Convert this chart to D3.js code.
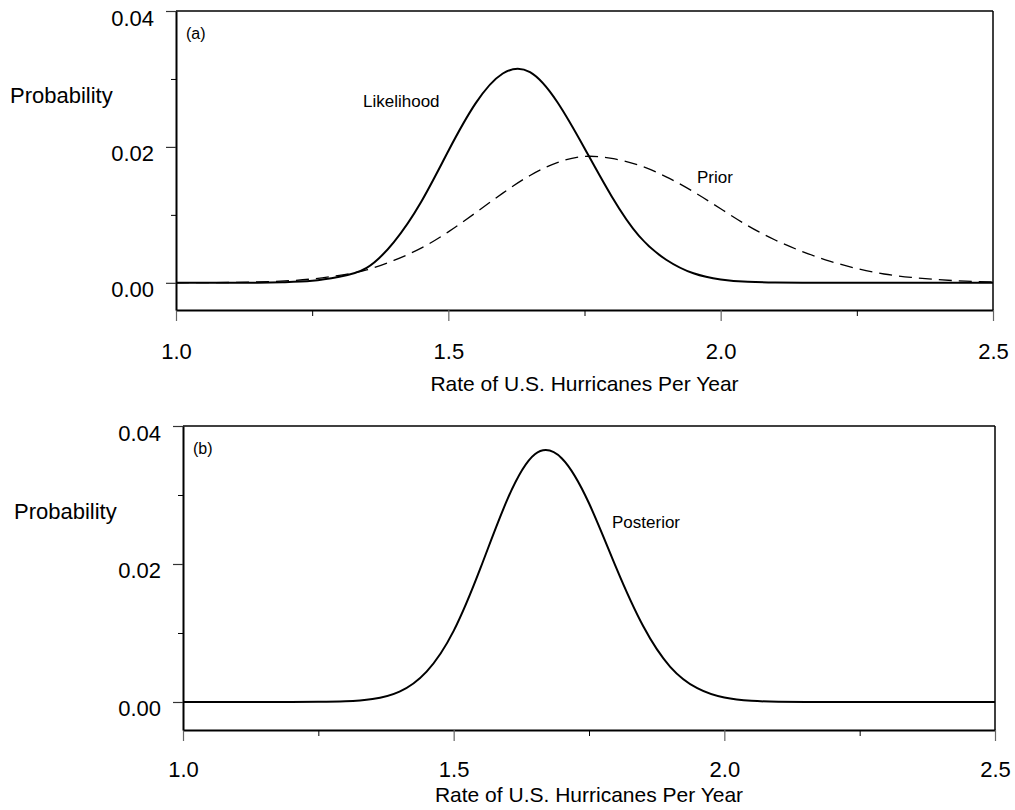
<!DOCTYPE html>
<html>
<head>
<meta charset="utf-8">
<script src="https://cdn.jsdelivr.net/npm/d3@7"></script>
<style>
    body { margin: 0; background: #fff; }
    svg { font-family: "Liberation Sans", Arial, sans-serif; }
</style>
</head>
<body>
<div id="chart"></div>
<script>

// rate of U.S. hurricanes per year (x), every 0.05
let rate = [1.00, 1.05, 1.10, 1.15, 1.20, 1.25, 1.30, 1.35, 1.40, 1.45,
            1.50, 1.55, 1.60, 1.65, 1.70, 1.75, 1.80, 1.85, 1.90, 1.95,
            2.00, 2.05, 2.10, 2.15, 2.20, 2.25, 2.30, 2.35, 2.40, 2.45, 2.50];

let likelihood = [0, 0.000001, 0.000005, 0.000026, 0.0001, 0.0003, 0.0009, 0.0022, 0.0060, 0.0119,
                  0.0194, 0.0264, 0.0308, 0.0310, 0.0266, 0.0198, 0.0127, 0.0069, 0.0034, 0.0014,
                  0.0005, 0.00015, 0.00004, 0.00001, 0, 0, 0, 0, 0, 0, 0];

let prior = [0.00001, 0.00002, 0.00005, 0.00013, 0.00028, 0.00057, 0.0011, 0.0019, 0.0033, 0.0051,
             0.0075, 0.0103, 0.0132, 0.0158, 0.0177, 0.0186, 0.0183, 0.0173, 0.0156, 0.0134,
             0.0109, 0.0084, 0.0063, 0.0046, 0.0032, 0.0021, 0.0013, 0.0008, 0.00046, 0.00025, 0.00013];

let posterior = [0, 0, 0, 0, 0.000002, 0.000017, 0.00009, 0.00042, 0.0015, 0.0044,
                 0.0103, 0.0195, 0.0295, 0.0359, 0.0353, 0.0288, 0.0195, 0.0110, 0.0051, 0.0020,
                 0.00064, 0.00017, 0.00004, 0.000007, 0.000001, 0, 0, 0, 0, 0, 0];

let xMajor = [1.0, 1.5, 2.0, 2.5];
let xMinor = [1.25, 1.75, 2.25];
let yMajor = [0.00, 0.02, 0.04];
let yMinor = [0.01, 0.03];

let xTitle = 'Rate of U.S. Hurricanes Per Year';
let yTitle = 'Probability';

const width = 1015, height = 810;

const svg = d3.select('#chart').append('svg')
    .attr('width', width)
    .attr('height', height);

function drawPanel(p) {
    let x = d3.scaleLinear().domain([1.0, 2.5]).range([p.left, p.right]);
    let y = d3.scaleLinear().domain([p.yMin, 0.04]).range([p.bottom, p.top]);

    let g = svg.append('g');

    // frame (top + right)
    g.append('line')
        .attr('x1', p.left).attr('x2', p.right)
        .attr('y1', p.top).attr('y2', p.top)
        .attr('stroke', '#000').attr('stroke-width', 1.5);
    g.append('line')
        .attr('x1', p.right).attr('x2', p.right)
        .attr('y1', p.top).attr('y2', p.bottom)
        .attr('stroke', '#000').attr('stroke-width', 1.5);

    // clip curves to plot box
    let clipId = 'clip-' + p.name;
    svg.append('clipPath').attr('id', clipId)
        .append('rect')
        .attr('x', p.left).attr('y', p.top)
        .attr('width', p.right - p.left).attr('height', p.bottom - p.top);

    let line = d3.line()
        .x((d, i) => x(rate[i]))
        .y(d => y(d))
        .curve(d3.curveNatural);

    let curves = g.append('g').attr('clip-path', `url(#${clipId})`);
    for (const s of p.series) {
        curves.append('path')
            .datum(s.values)
            .attr('d', line)
            .attr('fill', 'none')
            .attr('stroke', '#000')
            .attr('stroke-width', s.dashed ? 1.3 : 2)
            .attr('stroke-dasharray', s.dashed ? '13,7' : null);
    }

    // x axis, major + minor ticks
    let xAxis = g.append('g')
        .attr('transform', `translate(0,${p.bottom})`)
        .call(d3.axisBottom(x).tickValues(xMajor).tickSize(11).tickSizeOuter(0)
            .tickFormat(d3.format('.1f')));
    xAxis.select('.domain').attr('stroke-width', 2);
    xAxis.selectAll('.tick line').attr('stroke', '#666').attr('stroke-width', 1.2);
    xAxis.selectAll('.tick text')
        .attr('y', p.xLabelY).attr('dy', 0)
        .attr('font-size', 22).attr('fill', '#000')
        .attr('font-family', '"Liberation Sans", Arial, sans-serif');

    g.append('g')
        .attr('transform', `translate(0,${p.bottom})`)
        .call(d3.axisBottom(x).tickValues(xMinor).tickSize(6).tickFormat(''))
        .call(a => a.select('.domain').remove())
        .selectAll('.tick line').attr('stroke', '#000');

    // y axis
    let yAxis = g.append('g')
        .attr('transform', `translate(${p.left},0)`)
        .call(d3.axisLeft(y).tickValues(yMajor).tickSize(10).tickSizeOuter(0)
            .tickFormat(d3.format('.2f')));
    yAxis.select('.domain').attr('stroke-width', 2);
    yAxis.selectAll('.tick line').attr('stroke', '#333').attr('stroke-width', 1.2);
    yAxis.selectAll('.tick text')
        .attr('x', -22).attr('dy', 0).attr('y', 14)
        .attr('font-size', 22).attr('fill', '#000')
        .attr('font-family', '"Liberation Sans", Arial, sans-serif');

    g.append('g')
        .attr('transform', `translate(${p.left},0)`)
        .call(d3.axisLeft(y).tickValues(yMinor).tickSize(5).tickFormat(''))
        .call(a => a.select('.domain').remove())
        .selectAll('.tick line').attr('stroke', '#000');

    // titles
    g.append('text')
        .attr('x', (p.left + p.right) / 2)
        .attr('y', p.bottom + p.xTitleY)
        .attr('text-anchor', 'middle')
        .attr('font-size', 21)
        .text(xTitle);

    g.append('text')
        .attr('x', p.yTitleX).attr('y', p.yTitleY)
        .attr('font-size', 22)
        .text(yTitle);

    g.append('text')
        .attr('x', p.left + 10).attr('y', p.top + 28)
        .attr('font-size', 16)
        .text(p.tag);

    for (const lab of p.labels) {
        g.append('text')
            .attr('x', lab.x).attr('y', lab.y)
            .attr('font-size', 17)
            .text(lab.text);
    }
}

drawPanel({
    name: 'a', tag: '(a)',
    left: 176, right: 993, top: 11, bottom: 310, yMin: -0.004,
    xLabelY: 49, xTitleY: 81, yTitleX: 10, yTitleY: 103,
    series: [
        { values: prior, dashed: true },
        { values: likelihood, dashed: false }
    ],
    labels: [
        { text: 'Likelihood', x: 363, y: 107 },
        { text: 'Prior', x: 697, y: 183 }
    ]
});

drawPanel({
    name: 'b', tag: '(b)',
    left: 183, right: 995, top: 426, bottom: 730, yMin: -0.00406,
    xLabelY: 47, xTitleY: 72, yTitleX: 14, yTitleY: 519,
    series: [
        { values: posterior, dashed: false }
    ],
    labels: [
        { text: 'Posterior', x: 612, y: 528 }
    ]
});

</script>
</body>
</html>
